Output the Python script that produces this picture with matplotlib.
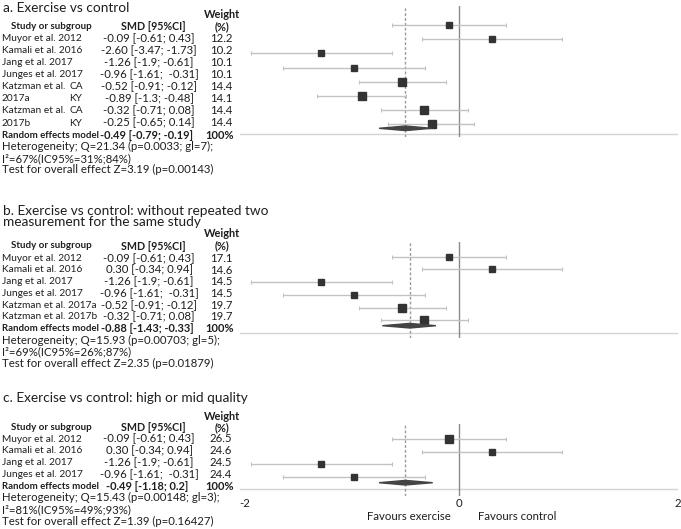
import matplotlib
matplotlib.use('Agg')
import matplotlib.pyplot as plt
from matplotlib.patches import Polygon

W, H = 681, 529
plt.rcParams['font.family'] = ['Lato', 'DejaVu Sans']

# ---- panel a: exercise vs control
a_studies = ['Muyor et al. 2012', 'Kamali et al. 2016', 'Jang et al. 2017', 'Junges et al. 2017',
             'Katzman et al.', '2017a', 'Katzman et al.', '2017b']
a_sub = ['', '', '', '', 'CA', 'KY', 'CA', 'KY']
a_smd = ['-0.09 [-0.61; 0.43]', '-2.60 [-3.47; -1.73]', '-1.26 [-1.9; -0.61]', '-0.96 [-1.61;  -0.31]',
         '-0.52 [-0.91; -0.12]', '-0.89 [-1.3; -0.48]', '-0.32 [-0.71; 0.08]', '-0.25 [-0.65; 0.14]']
a_weight = [12.2, 10.2, 10.1, 10.1, 14.4, 14.1, 14.4, 14.4]
a_est = [-0.09, 0.30, -1.26, -0.96, -0.52, -0.89, -0.32, -0.25]
a_lo = [-0.61, -0.34, -1.9, -1.61, -0.91, -1.3, -0.71, -0.65]
a_hi = [0.43, 0.94, -0.61, -0.31, -0.12, -0.48, 0.08, 0.14]
a_pool = [-0.49, -0.73, -0.25]
a_pool_txt = '-0.49 [-0.79; -0.19]'
a_notes = ['Heterogeneity; Q=21.34 (p=0.0033; gl=7);', 'I\u00b2=67%(IC95%=31%;84%)',
           'Test for overall effect Z=3.19 (p=0.00143)']

# ---- panel b: without repeated measurement
b_studies = ['Muyor et al. 2012', 'Kamali et al. 2016', 'Jang et al. 2017', 'Junges et al. 2017',
             'Katzman et al. 2017a', 'Katzman et al. 2017b']
b_smd = ['-0.09 [-0.61; 0.43]', '0.30 [-0.34; 0.94]', '-1.26 [-1.9; -0.61]', '-0.96 [-1.61;  -0.31]',
         '-0.52 [-0.91; -0.12]', '-0.32 [-0.71; 0.08]']
b_weight = [17.1, 14.6, 14.5, 14.5, 19.7, 19.7]
b_est = [-0.09, 0.30, -1.26, -0.96, -0.52, -0.32]
b_lo = [-0.61, -0.34, -1.9, -1.61, -0.91, -0.71]
b_hi = [0.43, 0.94, -0.61, -0.31, -0.12, 0.08]
b_pool = [-0.45, -0.70, -0.21]
b_pool_txt = '-0.88 [-1.43; -0.33]'
b_notes = ['Heterogeneity; Q=15.93 (p=0.00703; gl=5);', 'I\u00b2=69%(IC95%=26%;87%)',
           'Test for overall effect Z=2.35 (p=0.01879)']

# ---- panel c: high or mid quality
c_studies = ['Muyor et al. 2012', 'Kamali et al. 2016', 'Jang et al. 2017', 'Junges et al. 2017']
c_smd = ['-0.09 [-0.61; 0.43]', '0.30 [-0.34; 0.94]', '-1.26 [-1.9; -0.61]', '-0.96 [-1.61;  -0.31]']
c_weight = [26.5, 24.6, 24.5, 24.4]
c_est = [-0.09, 0.30, -1.26, -0.96]
c_lo = [-0.61, -0.34, -1.9, -1.61]
c_hi = [0.43, 0.94, -0.61, -0.31]
c_pool = [-0.49, -0.73, -0.24]
c_pool_txt = '-0.49 [-1.18; 0.2]'
c_notes = ['Heterogeneity; Q=15.43 (p=0.00148; gl=3);', 'I\u00b2=81%(IC95%=49%;93%)',
           'Test for overall effect Z=1.39 (p=0.16427)']

xticks = [-2, 0, 2]
fav_labels = ['Favours exercise', 'Favours control']

TXT = '#1e1e1e'
FS = 8.2        # numbers and notes
FS_NAME = 7.3   # study names (Calibri-like letters are narrow)
fig = plt.figure(figsize=(W / 100, H / 100), dpi=100)


def put(x, y, s, **kw):
    kw.setdefault('fontsize', FS)
    kw.setdefault('color', TXT)
    fig.text(x / W, 1 - y / H, s, va='center', **kw)


def table(title, y_title, y_weight, y_head, y_rows, step, studies, smd, weight, pool_txt, notes, sub=None):
    for i, t in enumerate(title):
        put(3, y_title + i * 11.2, t, fontsize=9.8)
    put(222, y_weight, 'Weight', ha='center', fontweight='bold', fontsize=7.9)
    put(51, y_head, 'Study or subgroup', ha='center', fontweight='bold', fontsize=7.0)
    put(153, y_head, 'SMD [95%CI]', ha='center', fontweight='bold', fontsize=7.7)
    put(222, y_head, '(%)', ha='center', fontweight='bold', fontsize=7.9)
    for i in range(len(studies)):
        y = y_rows + i * step
        put(2, y, studies[i], fontsize=FS_NAME)
        if sub is not None and sub[i]:
            put(69, y, sub[i], fontsize=FS_NAME)
        put(149, y, smd[i], ha='center')
        put(221, y, f'{weight[i]:.1f}', ha='center')
    y = y_rows + len(studies) * step
    put(2, y, 'Random effects model', fontweight='bold', fontsize=6.9)
    put(147, y, pool_txt, ha='center', fontweight='bold', fontsize=7.9)
    put(220, y, '100%', ha='center', fontweight='bold', fontsize=8.0)
    for j, n in enumerate(notes):
        put(2, y + 11.6 * (j + 1), n)


def forest(top, bottom, y0, step, est, lo, hi, weight, pool, y_pool, y_axis):
    ax = fig.add_axes([240 / W, 1 - bottom / H, 438 / W, (bottom - top) / H])
    ax.set_xlim(-2, 2)
    ax.set_ylim(bottom, top)
    ax.axis('off')
    ax.axhline(y_axis, color='#d4d4d4', lw=1.0, zorder=1)
    ax.axvline(0, color='#8a8a8a', lw=1.0, zorder=1)
    ax.axvline(pool[0], color='#9a9a9a', lw=1.0, ls=(0, (2, 1.5)), zorder=1)
    wmax = max(weight)
    for i in range(len(est)):
        y = y0 + i * step
        ax.errorbar(est[i], y, xerr=[[est[i] - lo[i]], [hi[i] - est[i]]], fmt='none',
                    ecolor='#c2c2c2', elinewidth=1.0, capsize=1.3, capthick=0.8, zorder=2)
        side = weight[i] / wmax * 7.5
        ax.plot(est[i], y, marker='s', ms=side * 0.72, color='#333333', mec='#333333', zorder=3)
    ax.add_patch(Polygon([(pool[1], y_pool), (pool[0], y_pool - 2.3), (pool[2], y_pool),
                          (pool[0], y_pool + 2.3)], closed=True, color='#444444', zorder=4))
    return ax


table(['a. Exercise vs control'], 8, 15, 26.5, 38.3, 12.1, a_studies, a_smd, a_weight,
      a_pool_txt, a_notes, sub=a_sub)
forest(6, 137.5, 25, 14.2, a_est, a_lo, a_hi, a_weight, a_pool, 128.3, 134.3)

table(['b. Exercise vs control: without repeated two', 'measurement for the same study'],
      210.7, 233.3, 246, 258.3, 11.7, b_studies, b_smd, b_weight, b_pool_txt, b_notes)
forest(241.7, 338.3, 256.7, 12.7, b_est, b_lo, b_hi, b_weight, b_pool, 325.7, 332.7)

table(['c. Exercise vs control: high or mid quality'], 397.6, 416.5, 427.7, 439, 11.8,
      c_studies, c_smd, c_weight, c_pool_txt, c_notes)
forest(424, 496, 439, 12.5, c_est, c_lo, c_hi, c_weight, c_pool, 482.7, 489)

for t in xticks:
    put(240 + (t + 2) / 4 * 438 + (5 if t < 0 else 0), 503.5, str(t), ha='center')
put(409, 516.5, fav_labels[0], ha='center')
put(517, 516.5, fav_labels[1], ha='center')

fig.savefig('out.png', dpi=100)
